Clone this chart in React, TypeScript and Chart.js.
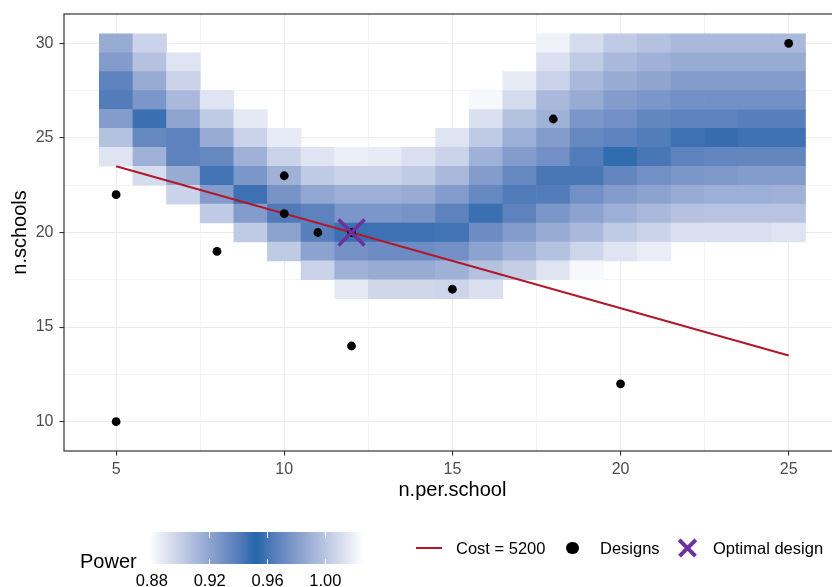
import { useEffect, useRef } from "react";
import { Chart, registerables } from "chart.js";

Chart.register(...registerables);

// ---------------- data ----------------
const nPerSchool = [5, 6, 7, 8, 9, 10, 11, 12, 13, 14, 15, 16, 17, 18, 19, 20, 21, 22, 23, 24, 25];
const nSchools = [30, 29, 28, 27, 26, 25, 24, 23, 22, 21, 20, 19, 18, 17];
const N = null;
// rows follow nSchools (30 -> 17), columns follow nPerSchool (5 -> 25)
const power: (number | null)[][] = [
  [0.987, 1.006, N, N, N, N, N, N, N, N, N, N, N, 1.02, 1.01, 1.002, 0.998, 0.994, 0.994, 0.994, 0.994],
  [0.98, 0.998, 1.014, N, N, N, N, N, N, N, N, N, N, 1.012, 1.002, 0.994, 0.99, 0.987, 0.987, 0.987, 0.987],
  [0.967, 0.987, 1.006, N, N, N, N, N, N, N, N, N, 1.017, 1.006, 0.994, 0.987, 0.984, 0.98, 0.98, 0.98, 0.98],
  [0.94, 0.977, 0.994, 1.014, N, N, N, N, N, N, N, 1.023, 1.01, 0.994, 0.987, 0.98, 0.977, 0.974, 0.974, 0.974, 0.974],
  [0.924, 0.947, 0.984, 1.002, 1.016, N, N, N, N, N, N, 1.012, 0.998, 0.99, 0.977, 0.974, 0.969, 0.967, 0.967, 0.965, 0.965],
  [0.906, 0.934, 0.967, 0.987, 1.006, 1.017, N, N, N, N, 1.014, 1.002, 0.989, 0.98, 0.97, 0.967, 0.964, 0.946, 0.948, 0.946, 0.946],
  [0.89, 0.914, 0.937, 0.97, 0.99, 1.006, 1.014, 1.019, 1.017, 1.012, 1.006, 0.99, 0.98, 0.974, 0.964, 0.949, 0.943, 0.937, 0.935, 0.935, 0.935],
  [N, 0.894, 0.917, 0.945, 0.977, 0.99, 1.002, 1.006, 1.006, 1.002, 0.994, 0.98, 0.97, 0.943, 0.943, 0.935, 0.93, 0.927, 0.926, 0.924, 0.924],
  [N, N, 0.898, 0.924, 0.946, 0.976, 0.985, 0.989, 0.989, 0.987, 0.98, 0.97, 0.941, 0.94, 0.93, 0.924, 0.921, 0.917, 0.915, 0.915, 0.914],
  [N, N, N, 0.902, 0.924, 0.941, 0.967, 0.977, 0.977, 0.976, 0.967, 0.947, 0.937, 0.927, 0.921, 0.915, 0.91, 0.906, 0.905, 0.905, 0.905],
  [N, N, N, N, 0.902, 0.921, 0.939, 0.947, 0.946, 0.946, 0.945, 0.932, 0.924, 0.917, 0.91, 0.902, 0.898, 0.892, 0.892, 0.892, 0.89],
  [N, N, N, N, N, 0.902, 0.921, 0.929, 0.932, 0.932, 0.93, 0.921, 0.914, 0.906, 0.897, 0.89, 0.886, N, N, N, N],
  [N, N, N, N, N, N, 0.898, 0.914, 0.917, 0.917, 0.914, 0.906, 0.9, 0.89, 0.881, N, N, N, N, N, N],
  [N, N, N, N, N, N, N, 0.888, 0.896, 0.896, 0.897, 0.892, N, N, N, N, N, N, N, N, N],
];

const designX = [5, 5, 8, 10, 10, 11, 12, 12, 15, 18, 20, 25];
const designY = [22, 10, 19, 23, 21, 20, 14, 20, 17, 26, 12, 30];
const optimalX = [12];
const optimalY = [20];
const costLineX = [5, 25];
const costLineY = [23.5, 13.5];

const xTicks = [5, 7.5, 10, 12.5, 15, 17.5, 20, 22.5, 25];
const yTicks = [10, 12.5, 15, 17.5, 20, 22.5, 25, 27.5, 30];
const powerTicks = [0.88, 0.92, 0.96, 1.0];
const powerTickLabels = ["0.88", "0.92", "0.96", "1.00"];

// ---------------- colour scale ----------------
const MID = 0.952;
const HALF = 0.074;
const SCALE_MIN = 0.878;
const SCALE_MAX = 1.026;
const END_RGB = [255, 255, 255];
const MID_RGB = [33, 102, 172];

function toLin(c: number) {
  const v = c / 255;
  return v <= 0.04045 ? v / 12.92 : Math.pow((v + 0.055) / 1.055, 2.4);
}
function fromLin(v: number) {
  const c = v <= 0.0031308 ? v * 12.92 : 1.055 * Math.pow(v, 1 / 2.4) - 0.055;
  return Math.round(Math.max(0, Math.min(1, c)) * 255);
}
function rgbToLab(rgb: number[]) {
  const R = toLin(rgb[0]), G = toLin(rgb[1]), B = toLin(rgb[2]);
  const X = (0.4124 * R + 0.3576 * G + 0.1805 * B) / 0.95047;
  const Y = 0.2126 * R + 0.7152 * G + 0.0722 * B;
  const Z = (0.0193 * R + 0.1192 * G + 0.9505 * B) / 1.08883;
  const f = (t: number) => (t > 0.008856 ? Math.cbrt(t) : 7.787 * t + 16 / 116);
  const fx = f(X), fy = f(Y), fz = f(Z);
  return [116 * fy - 16, 500 * (fx - fy), 200 * (fy - fz)];
}
function labToRgb(lab: number[]) {
  const fy = (lab[0] + 16) / 116;
  const fx = fy + lab[1] / 500;
  const fz = fy - lab[2] / 200;
  const inv = (t: number) => (t * t * t > 0.008856 ? t * t * t : (t - 16 / 116) / 7.787);
  const X = inv(fx) * 0.95047, Y = inv(fy), Z = inv(fz) * 1.08883;
  const R = 3.2406 * X - 1.5372 * Y - 0.4986 * Z;
  const G = -0.9689 * X + 1.8758 * Y + 0.0415 * Z;
  const B = 0.0557 * X - 0.204 * Y + 1.057 * Z;
  return [fromLin(R), fromLin(G), fromLin(B)];
}
const END_LAB = rgbToLab(END_RGB);
const MID_LAB = rgbToLab(MID_RGB);
function powerColor(p: number) {
  const t = Math.max(0, Math.min(1, 1 - Math.abs(p - MID) / HALF));
  const lab = END_LAB.map((v, i) => v + (MID_LAB[i] - v) * t);
  const [r, g, b] = labToRgb(lab);
  return `rgb(${r},${g},${b})`;
}

// ---------------- chart building ----------------
const FONT = "'Liberation Sans', Arial, Helvetica, sans-serif";

const tiles: { x: number; y: [number, number] }[] = [];
const tileColors: string[] = [];
nSchools.forEach((ys, r) => {
  nPerSchool.forEach((xs, c) => {
    const p = power[r][c];
    if (p === null) return;
    tiles.push({ x: xs, y: [ys - 0.5, ys + 0.5] });
    tileColors.push(powerColor(p));
  });
});

const panelBorder = {
  id: "panelBorder",
  afterDatasetsDraw(chart: any) {
    const { ctx, chartArea } = chart;
    ctx.save();
    ctx.strokeStyle = "#333333";
    ctx.lineWidth = 1.2;
    ctx.strokeRect(chartArea.left, chartArea.top, chartArea.right - chartArea.left, chartArea.bottom - chartArea.top);
    ctx.restore();
  },
};

const isMajor = (v: number) => Math.abs(v % 5) < 1e-9;

function axisGrid() {
  return {
    color: "#EBEBEB",
    lineWidth: (ctx: any) => (ctx.tick && isMajor(ctx.tick.value) ? 1.1 : 0.55),
    drawTicks: true,
    tickLength: 4.5,
    tickWidth: 1.1,
    tickColor: (ctx: any) => (ctx.tick && isMajor(ctx.tick.value) ? "#333333" : "rgba(0,0,0,0)"),
    offset: false,
  };
}

function zeroPadding(axis: any) {
  axis.paddingTop = 0;
  axis.paddingBottom = 0;
  axis.paddingLeft = 0;
  axis.paddingRight = 0;
}

export default function App() {
  const ref = useRef<HTMLCanvasElement>(null);

  useEffect(() => {
    document.body.style.margin = "0";
    const canvas = ref.current!;
    const chart = new Chart(canvas, {
      type: "bar",
      data: {
        datasets: [
          {
            type: "scatter",
            label: "Optimal design",
            data: optimalX.map((x, i) => ({ x, y: optimalY[i] })),
            pointStyle: "crossRot",
            pointRadius: 18.4,
            pointBorderWidth: 3.5,
            pointBorderColor: "#6E2F9F",
            pointBackgroundColor: "#6E2F9F",
            order: 0,
          } as any,
          {
            type: "scatter",
            label: "Designs",
            data: designX.map((x, i) => ({ x, y: designY[i] })),
            pointStyle: "circle",
            pointRadius: 4.4,
            pointBorderWidth: 0,
            pointBackgroundColor: "#000000",
            order: 1,
          } as any,
          {
            type: "line",
            label: "Cost = 5200",
            data: costLineX.map((x, i) => ({ x, y: costLineY[i] })),
            borderColor: "#B2182B",
            borderWidth: 2,
            pointRadius: 0,
            fill: false,
            order: 2,
          } as any,
          {
            type: "bar",
            label: "Power",
            data: tiles as any,
            backgroundColor: tileColors,
            borderWidth: 0,
            barPercentage: 1,
            categoryPercentage: 1,
            grouped: false,
            order: 3,
          } as any,
        ],
      },
      options: {
        responsive: false,
        animation: false,
        devicePixelRatio: 1,
        events: [],
        layout: { autoPadding: false, padding: { left: 0, top: 14, right: 9.2, bottom: 0 } },
        plugins: { legend: { display: false }, tooltip: { enabled: false } },
        scales: {
          x: {
            type: "linear",
            min: 3.45,
            max: 26.55,
            offset: false,
            afterBuildTicks: (axis: any) => {
              axis.ticks = xTicks.map((v) => ({ value: v }));
            },
            afterFit: (axis: any) => {
              axis.height = 136;
              zeroPadding(axis);
            },
            grid: axisGrid() as any,
            border: { display: false },
            ticks: {
              autoSkip: false,
              maxRotation: 0,
              padding: 4,
              color: "#4D4D4D",
              font: { family: FONT, size: 16 },
              callback: (v: any) => (isMajor(Number(v)) ? String(v) : ""),
            },
            title: {
              display: true,
              text: "n.per.school",
              color: "#000000",
              font: { family: FONT, size: 20 },
              padding: { top: 0, bottom: 85 },
            },
          },
          y: {
            type: "linear",
            min: 8.45,
            max: 31.55,
            beginAtZero: false,
            afterBuildTicks: (axis: any) => {
              axis.ticks = yTicks.map((v) => ({ value: v }));
            },
            afterFit: (axis: any) => {
              axis.width = 64;
              zeroPadding(axis);
            },
            grid: axisGrid() as any,
            border: { display: false },
            ticks: {
              autoSkip: false,
              padding: 6,
              color: "#4D4D4D",
              font: { family: FONT, size: 16 },
              callback: (v: any) => (isMajor(Number(v)) ? String(v) : ""),
            },
            title: {
              display: true,
              text: "n.schools",
              color: "#000000",
              font: { family: FONT, size: 20 },
              padding: { top: 8, bottom: 0 },
            },
          },
        },
      },
      plugins: [panelBorder],
    } as any);
    return () => chart.destroy();
  }, []);

  const barLeft = 149;
  const barWidth = 214;
  const valueToX = (v: number) => barLeft + ((v - SCALE_MIN) / (SCALE_MAX - SCALE_MIN)) * barWidth;
  const stops: string[] = [];
  for (let i = 0; i <= 40; i++) {
    const v = SCALE_MIN + ((SCALE_MAX - SCALE_MIN) * i) / 40;
    stops.push(`${powerColor(v)} ${(i / 40) * 100}%`);
  }
  const gradient = `linear-gradient(to right, ${stops.join(", ")})`;

  const textStyle = (left: number, top: number, size: number): any => ({
    position: "absolute",
    left,
    top,
    fontSize: size,
    lineHeight: `${size}px`,
    whiteSpace: "nowrap",
    color: "#000000",
  });

  return (
    <div
      style={{
        position: "relative",
        width: 832,
        height: 587,
        overflow: "hidden",
        background: "#ffffff",
        fontFamily: FONT,
      }}
    >
      <canvas ref={ref} width={850} height={587} style={{ position: "absolute", left: 0, top: 0, width: 850, height: 587 }} />

      {/* colour bar legend */}
      <div style={textStyle(80, 551, 20)}>Power</div>
      <div style={{ position: "absolute", left: barLeft, top: 532, width: barWidth, height: 32, background: gradient }} />
      {powerTicks.map((v) => (
        <div key={"tt" + v}>
          <div style={{ position: "absolute", left: valueToX(v) - 0.5, top: 532, width: 1, height: 5.5, background: "#ffffff" }} />
          <div style={{ position: "absolute", left: valueToX(v) - 0.5, top: 558.5, width: 1, height: 5.5, background: "#ffffff" }} />
        </div>
      ))}
      {powerTicks.map((v, i) => (
        <div key={"tl" + v} style={{ ...textStyle(valueToX(v), 572, 16.5), transform: "translateX(-50%)" }}>
          {powerTickLabels[i]}
        </div>
      ))}

      {/* layer legend */}
      <div style={{ position: "absolute", left: 416, top: 547, width: 26, height: 2, background: "#B2182B" }} />
      <div style={textStyle(456, 540, 16.5)}>Cost = 5200</div>
      <div
        style={{ position: "absolute", left: 566.4, top: 541.7, width: 12.6, height: 12.6, borderRadius: "50%", background: "#000000" }}
      />
      <div style={textStyle(600, 540, 16.5)}>Designs</div>
      <div style={{ position: "absolute", left: 687.3 - 11.5, top: 548 - 1.75, width: 23, height: 3.5, background: "#6E2F9F", transform: "rotate(45deg)" }} />
      <div style={{ position: "absolute", left: 687.3 - 11.5, top: 548 - 1.75, width: 23, height: 3.5, background: "#6E2F9F", transform: "rotate(-45deg)" }} />
      <div style={textStyle(713, 540, 16.5)}>Optimal design</div>
    </div>
  );
}
